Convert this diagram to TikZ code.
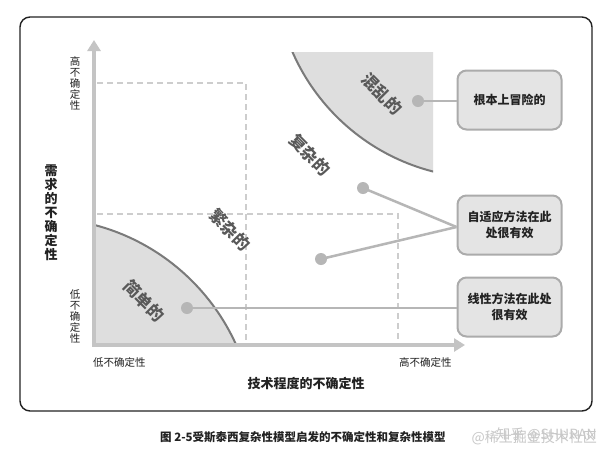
\documentclass[tikz,border=0pt]{standalone}
\usepackage{fontspec}
\setmainfont{Noto Sans CJK SC}
\usetikzlibrary{arrows.meta}
\definecolor{framec}{HTML}{222222}
\definecolor{axisc}{HTML}{C4C4C4}
\definecolor{dashc}{HTML}{CDCDCD}
\definecolor{regionfill}{HTML}{DEDEDE}
\definecolor{arcc}{HTML}{7A7A7A}
\definecolor{zonetext}{HTML}{595959}
\definecolor{boxfill}{HTML}{E4E4E4}
\definecolor{boxline}{HTML}{ABABAB}
\definecolor{connc}{HTML}{B6B6B6}
\definecolor{textc}{HTML}{222222}
\definecolor{wmc}{HTML}{C8C8C8}
\tikzset{
  framebox/.style={draw=framec, line width=1.4pt, rounded corners=10pt},
  axisline/.style={draw=axisc, line width=4.5pt, -{Triangle[width=13pt,length=11pt]}},
  dashline/.style={draw=dashc, line width=2pt, dash pattern=on 6pt off 4pt},
  arcline/.style={draw=arcc, line width=2pt},
  zonelabel/.style={text=zonetext, font=\bfseries\fontsize{16.5}{16.5}\selectfont, rotate=-45, inner sep=0pt},
  notebox/.style={draw=boxline, fill=boxfill, line width=2pt, rounded corners=9pt,
    minimum width=104pt, minimum height=59pt, align=center, text=textc,
    font=\bfseries\fontsize{12}{16}\selectfont, inner sep=2pt},
  conn/.style={draw=connc, line width=2.5pt},
  dotmark/.style={circle, fill=connc, minimum size=12pt, inner sep=0pt},
  ticklabel/.style={text=textc, font=\fontsize{10.5}{11}\selectfont, inner sep=0pt, align=center},
  axistitle/.style={text=textc, font=\bfseries\fontsize{13}{14}\selectfont, inner sep=0pt, align=center},
  captionlabel/.style={text=textc, font=\bfseries\fontsize{11.5}{12}\selectfont, inner sep=0pt},
  wmlabel/.style={text=wmc, font=\fontsize{14}{14}\selectfont, inner sep=0pt}
}
\begin{document}
\begin{tikzpicture}[x=1pt,y=-1pt]
\useasboundingbox (0,0) rectangle (615,456);
\fill[white] (0,0) rectangle (615,456);
% frame
\draw[framebox] (20,17) rectangle (592,411);
% coordinates
\coordinate (O) at (94,345);
\coordinate (Ytip) at (94,40);
\coordinate (Xtip) at (465,345);
% simple region
\begin{scope}
  \clip (94,0) rectangle (615,345);
  \fill[regionfill] (40,433) circle [radius=215pt];
  \draw[arcline] (40,433) circle [radius=215pt];
\end{scope}
% chaos region
\begin{scope}
  \clip (0,52) rectangle (433,456);
  \fill[regionfill] (485,-32) circle [radius=210pt];
  \draw[arcline] (485,-32) circle [radius=210pt];
\end{scope}
% dashed boxes
\draw[dashline] (97,83) -- (246,83) -- (246,345);
\draw[dashline] (97,214) -- (398,214) -- (398,345);
% axes
\draw[axisline] (O) -- (Ytip);
\draw[axisline] ([xshift=-2.25pt]O) -- (Xtip);
% zone labels
\node[zonelabel] (chaos) at (382,94) {混乱的};
\node[zonelabel] (complex) at (310,155) {复杂的};
\node[zonelabel] (complic) at (230,230) {繁杂的};
\node[zonelabel] (simple) at (144,301) {简单的};
% boxes
\node[notebox] (b1) at (509.5,100) {根本上冒险的};
\node[notebox] (b2) at (509.5,225) {自适应方法在此\\处很有效};
\node[notebox] (b3) at (509.5,307) {线性方法在此处\\很有效};
% dots
\coordinate (d1c) at (418,101);
\coordinate (d2c) at (363,188);
\coordinate (d3c) at (321,259);
\coordinate (d4c) at (187,308);
\draw[conn] (d1c) -- (b1.west |- d1c);
\draw[conn] (d2c) -- ([yshift=-2pt]b2.west);
\draw[conn] (d3c) -- ([yshift=-2pt]b2.west);
\draw[conn] (d4c) -- (b3.west |- d4c);
\node[dotmark] (d1) at (d1c) {};
\node[dotmark] (d2) at (d2c) {};
\node[dotmark] (d3) at (d3c) {};
\node[dotmark] (d4) at (d4c) {};
% axis labels
\node[ticklabel] (yhigh) at (75,83) {高\\不\\确\\定\\性};
\node[ticklabel] (ylow) at (75,317) {低\\不\\确\\定\\性};
\node[ticklabel, anchor=west] (xlow) at (93,362) {低不确定性};
\node[ticklabel, anchor=west] (xhigh) at (399,362) {高不确定性};
\node[axistitle] (xtitle) at (306,383) {技术程度的不确定性};
\node[axistitle] (ytitle) at (51,213) {需\\求\\的\\不\\确\\定\\性};
% caption
\node[captionlabel, anchor=west] (cap) at (160,437) {图 2-5受斯泰西复杂性模型启发的不确定性和复杂性模型};
% watermark
\node[wmlabel, anchor=east] (wm1) at (597,435) {知乎 @SHURAN};
\node[wmlabel, anchor=east] (wm2) at (597,438) {@稀土掘金技术社区};
\end{tikzpicture}
\end{document}
